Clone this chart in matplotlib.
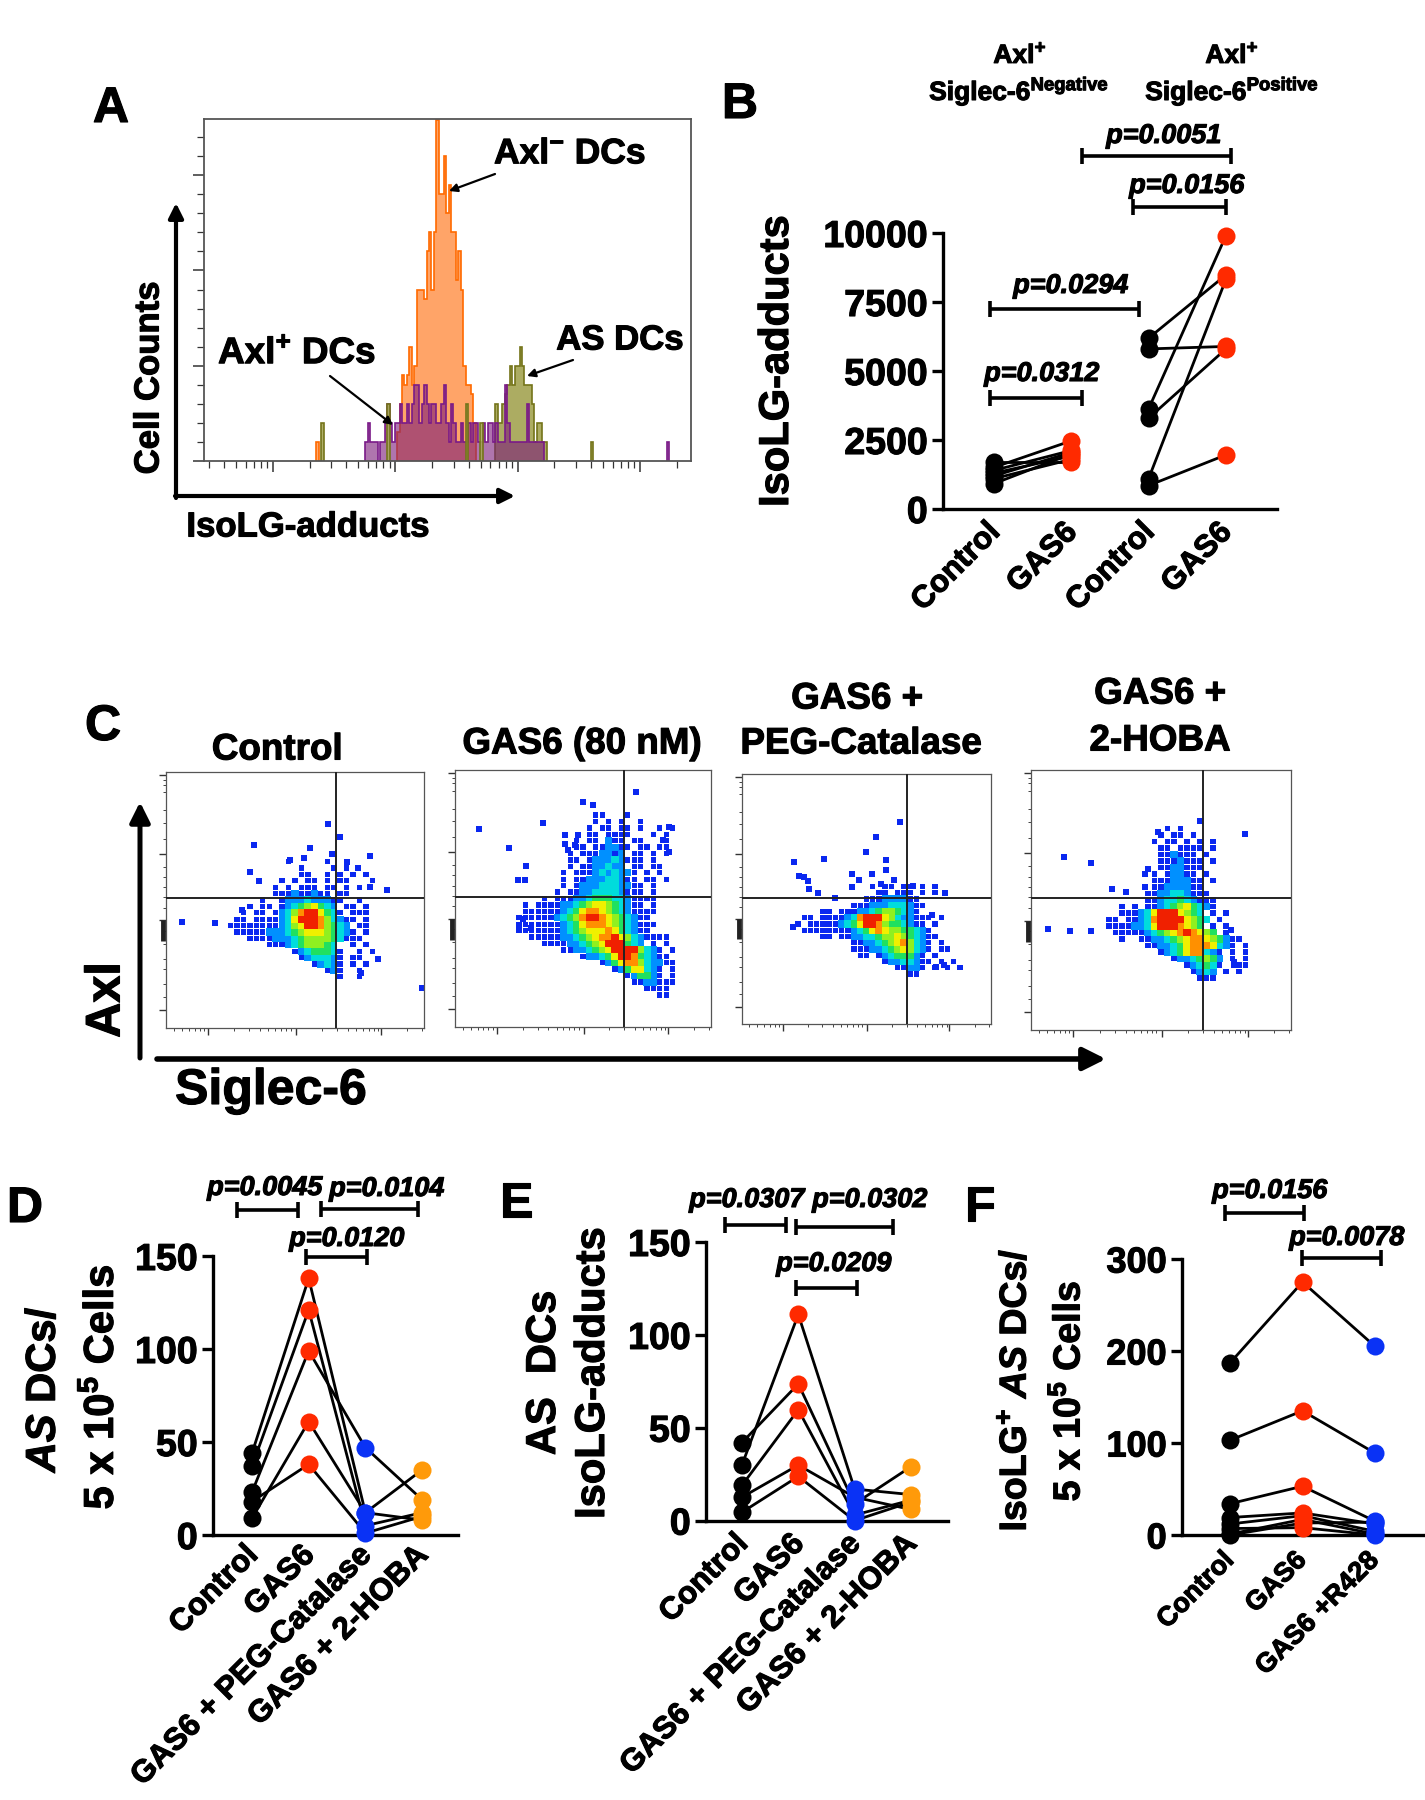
"""plot.py - six panel figure: flow histogram (A), paired dots (B, D, E, F), density dot plots (C)"""
import numpy as np
import matplotlib
matplotlib.use('Agg')
import matplotlib.pyplot as plt
import matplotlib.patheffects as pe
from matplotlib.colors import ListedColormap
from matplotlib.text import Text
from matplotlib.transforms import ScaledTranslation

plt.rcParams['font.family'] = ['Liberation Sans', 'DejaVu Sans']
plt.rcParams['font.weight'] = 'bold'
plt.rcParams['mathtext.fontset'] = 'custom'
plt.rcParams['mathtext.rm'] = 'Liberation Sans:bold'
plt.rcParams['mathtext.bf'] = 'Liberation Sans:bold'
plt.rcParams['mathtext.it'] = 'Liberation Sans:italic:bold'

W, H = 1425, 1800
BLACK, RED, BLUE, ORANGE = '#000000', '#ff2a00', '#0a32f5', '#ff9a0a'

# ── panel A: histogram counts per bin ────────────────────────────────────────
orange_start = 79
orange_counts = [1.5, 3, 4.5, 4, 4.5, 6, 4, 5, 9, 9, 9, 8.5, 11, 12, 9, 12, 17.9, 14, 14, 16,
                 13, 14.5, 12, 12, 9.5, 11, 9, 5, 4, 4, 3.5, 2]
olive_start = 119
olive_counts = [3, 2, 2, 3, 3.5, 4, 5, 4, 5, 5, 6, 5, 4, 4, 4, 3, 1, 2, 2, 1, 1]
purple_start = 66
purple_counts = [1, 2, 1, 1, 1, 0, 1, 1, 2, 3, 2, 1, 2, 2, 3, 2, 2, 3, 2, 3, 4, 4, 2, 3, 4, 3, 2, 3, 3, 2,
                 2, 3, 4, 2, 1, 3, 2, 1, 1, 2, 1, 1, 2, 1, 2, 2, 1, 1, 2, 1, 2, 2, 1, 2, 1, 1, 1, 4, 2, 1,
                 1, 1, 1, 1, 1, 1, 3, 1, 1, 1, 1, 1, 1]
spike_orange = [(46, 1)]
spike_olive = [(48, 2), (75, 3), (107, 3), (113, 2), (158, 1)]
spike_purple = [(189, 1)]

# ── panel B ──────────────────────────────────────────────────────────────────
b_neg_control = [1710, 1510, 1400, 1300, 1200, 1100, 920]
b_neg_gas6 = [1710, 2470, 2120, 1920, 2050, 1800, 2000]
b_pos_control = [6190, 5800, 3630, 3290, 1100, 850]
b_pos_gas6 = [8480, 5890, 9900, 5800, 8320, 1960]
b_labels = ['Control', 'GAS6', 'Control', 'GAS6']
b_ticks = [0, 2500, 5000, 7500, 10000]

# ── panel D ──────────────────────────────────────────────────────────────────
d_control = [44, 37, 23, 9, 18]
d_gas6 = [138, 121, 99, 61, 38]
d_peg = [12, 5, 47, 12, 1]
d_hoba = [35, 12, 19, 8, 10]
de_labels = ['Control', 'GAS6', 'GAS6 + PEG-Catalase', 'GAS6 + 2-HOBA']
de_ticks = [0, 50, 100, 150]

# ── panel E ──────────────────────────────────────────────────────────────────
e_control = [30, 42, 19, 12.6, 4.5]
e_gas6 = [111, 73.6, 59.7, 29.9, 23.8]
e_peg = [17, 9, 3, 12.6, 0]
e_hoba = [14, 29, 11, 6, 10]

# ── panel F ──────────────────────────────────────────────────────────────────
f_control = [187, 103, 34, 19, 12, 7, 1, 0]
f_gas6 = [275, 135, 53, 24, 21, 8, 17, 13]
f_r428 = [205, 89, 15, 12, 4, 0, 1, 14]
f_labels = ['Control', 'GAS6', 'GAS6 +R428']
f_ticks = [0, 100, 200, 300]

# ── panel C: density level per 2.5 x 2.5 cell (1 blue ... 8 red), top row first ──
ctrl_x0, ctrl_y0 = 22.5, 65
ctrl_rows = [
    "          1     1  1    ",
    "            1    1 1    ",
    "            11  1 1 1 1 ",
    "         1 1 11 1 11   1",
    "        1 1 111 11 1 1  ",
    "        111211211 11    ",
    "      1  1222322211  1  ",
    "    1 11 123456432 11 1 ",
    "   1 11 12357886431 111 ",
    "  11 1111236888753211 1 ",
    " 1111111123568875432 11 ",
    "  1111122234566654321 1 ",
    "    111122234555543111  ",
    "       11123455543  1 1 ",
    "           12344431  1 1",
    "            1233321 11  ",
    "              12321 1 1 ",
    "                121  1  ",
    "                  1  1  ",
]
ctrl_out = [(62.9, 79.5), (67.3, 74.7), (34.3, 71.6), (55.7, 70.4), (64.5, 67.8), (79.2, 67.1), (48.2, 65.8),
            (53.6, 66.5), (32.7, 61), (35.9, 57.5), (85.8, 53.9), (78.9, 55.2), (6.2, 41.6), (19.1, 41.2),
            (99.2, 15.6), (74.3, 62.6), (70.3, 64.9), (29.4, 46.1), (75.7, 21.4), (82.2, 26.9)]

gas_x0, gas_y0 = 25, 82.5
gas_rows = [
    "            11   1       ",
    "            1 1 1  1     ",
    "           1 11 11 1  1 1",
    "           11 1111   1 1 ",
    "         1 11 211 11   1 ",
    "         11 112211 11 11 ",
    "        1 1112212 11 1 1 ",
    "        11 122232111 1   ",
    "        1 1122322 11 11  ",
    "       1 1112323221 1 1  ",
    "       1 1122233211 11 1 ",
    "       1 12223332211 1   ",
    "      1 112233332111 1   ",
    "    1 1112234443321111   ",
    " 1 11112234566543211 1   ",
    " 111111234677654321111   ",
    "111111234578876543211    ",
    "1111111234677765432111   ",
    "111111123456667643211    ",
    "  1111122345677865321111 ",
    "    1111223456888432 1 1 ",
    "       1122345688885321 1",
    "          12234688743211 ",
    "             124677532211",
    "               12466321 1",
    "                 124421 1",
    "                  1122111",
    "                    1111 ",
    "                      11 ",
]
gas_out = [(9.5, 76.9), (21, 69.5), (27.9, 62.7), (24.6, 57.1), (27.5, 57.1), (34.4, 79.2), (50, 87.4), (53.8, 86.2),
           (70.8, 91.3), (43, 74.7), (48, 74.7), (43, 71.4), (46.7, 71), (44.3, 69), (83.6, 77.9), (83.6, 68.2),
           (81.1, 72.7), (25, 39.4), (29.5, 38.6), (26.6, 42)]

peg_x0, peg_y0 = 20, 55
peg_rows = [
    "             1 11 11 1 1",
    "              11 111 1 1",
    "            111222211",
    "          111222333211",
    "     11 1112234554321",
    "  11 111123788865322111 1",
    " 1 1111123468875443211 1",
    "  111111112346765544321",
    "     11 1122334556543211",
    "          1122345675321 1",
    "          1112234565321 11",
    "           11 12344421 1",
    "               12233211 1 1",
    "                 11221 1 1 1",
    "                   11",
]
peg_out = [(63.4, 80.7), (53.9, 74.8), (49.6, 68.9), (33, 66.1), (20.9, 64.7), (58, 65.7), (44.2, 60), (52.4, 60),
           (58, 61.7), (22.7, 59.3), (24.7, 59), (26.7, 57.3), (26.9, 54), (30.6, 52.4), (61, 57.7), (47, 57.5),
           (55.8, 56.1), (44.2, 54.8), (81.4, 52.4), (68.8, 55.3), (20.4, 39), (37.3, 50.4), (76.5, 43.7),
           (81.1, 23.7), (78, 23)]

hoba_x0, hoba_y0 = 30, 77.5
hoba_rows = [
    "         1 1",
    "        1 11 1",
    "       1 11 1 1 1",
    "        11 1111 1",
    "        112111 1",
    "        1112111 1",
    "        1122111",
    "       1 12211 1",
    "       11122211 1",
    "       11222211",
    "      1122332111",
    "      11233432111",
    "  1 1 11234564321",
    "  1112368886543 1 1",
    "11 1123788886543 1",
    "111122368887654 1 1",
    " 1111123456787654 1",
    "  1  1122345677654211",
    "      11223467776321 1",
    "        1234677321 1 1",
    "          12234542 1 1",
    "            123431  11",
    "             1232 1 1",
    "              111",
]
hoba_out = [(12.6, 66.7), (23.1, 64.3), (31, 54.3), (36.5, 53), (44, 55), (6.5, 38.7), (15, 38), (23, 38),
            (82.4, 75.5), (77, 38.5), (78, 26), (78, 25), (49, 76), (45, 62), (44, 60), (64.9, 80.3)]

level_colors = ['#0a28f0', '#0090ff', '#00dcdc', '#20e060', '#90f020', '#f0f000', '#ff9000', '#f02000']
cell_cmap = ListedColormap(level_colors)


def add_ax(left, top, right, bottom, **kw):
    return fig.add_axes([left / W, 1 - bottom / H, (right - left) / W, (bottom - top) / H], **kw)


def label(x, y, s, fs, **kw):
    # va='center' sits a little high against the reference, so push down by 4 px
    rot = kw.get('rotation', 0)
    dx, dy = (4, 0) if rot else (0, 4)
    over.text(x + dx, y + dy, s, fontsize=fs, ha='center', va='center', **kw)


def bracket(x1, x2, y, text, tx, ty, cap=8):
    over.plot([x1, x2], [y, y], color='k', lw=2.6, solid_capstyle='butt')
    over.plot([x1, x1], [y - cap, y + cap], color='k', lw=2.6, solid_capstyle='butt')
    over.plot([x2, x2], [y - cap, y + cap], color='k', lw=2.6, solid_capstyle='butt')
    over.text(tx, ty + 1, text, fontsize=19.5, style='italic', ha='center', va='center')


def style_paired(ax, box, cat0, step, ticks, labels, tick_fs, lab_fs, shift):
    left, top, right, bottom = box
    ax.set_xlim((left - cat0) / step, (right - cat0) / step)
    ax.set_ylim(0, ticks[-1])
    for s in ['top', 'right']:
        ax.spines[s].set_visible(False)
    for s in ['left', 'bottom']:
        ax.spines[s].set_linewidth(2.4)
    ax.set_yticks(ticks)
    ax.tick_params(axis='y', length=8, width=2.4, labelsize=tick_fs, pad=3)
    ax.tick_params(axis='x', length=0, pad=8)
    ax.set_xticks(np.arange(len(labels)))
    ax.set_xticklabels(labels, rotation=45, ha='right', va='top', rotation_mode='anchor', fontsize=lab_fs)
    off = ScaledTranslation(shift[0] / 100, shift[1] / 100, fig.dpi_scale_trans)
    for t in ax.get_xticklabels():
        t.set_transform(t.get_transform() + off)
    ax.patch.set_alpha(0)


def draw_pairs(ax, xs, groups, colors):
    for vals in zip(*groups):
        ax.plot(xs, vals, color='k', lw=2.0, zorder=2, clip_on=False)
    for x, vals, c in zip(xs, groups, colors):
        ax.plot([x] * len(vals), vals, 'o', color=c, ms=13, mew=0, zorder=3, clip_on=False)


def density_panel(box, rows, x0, y0, outliers, vline, hline, y_major, y_minor, x_major):
    left, top, right, bottom = box
    ax = add_ax(left, top, right, bottom)
    xs, ys, vs = [], [], []
    for r, row in enumerate(rows):
        for c, ch in enumerate(row):
            if ch != ' ':
                xs.append(x0 + 2.5 * c)
                ys.append(y0 - 2.5 * r)
                vs.append(int(ch))
    xs, ys, vs = np.array(xs), np.array(ys), np.array(vs)
    order = np.argsort(vs)
    sizes = np.where(vs[order] == 1, 15, 26)
    ax.scatter(xs[order], ys[order], c=vs[order], cmap=cell_cmap, vmin=0.5, vmax=8.5, marker='s', s=sizes, linewidths=0, zorder=2)
    ox, oy = zip(*outliers)
    ax.scatter(ox, oy, color=level_colors[0], marker='s', s=14, linewidths=0, zorder=2)
    ax.axvline(vline, color='#222222', lw=1.4, zorder=3)
    ax.axhline(hline, color='#222222', lw=1.4, zorder=3)
    ax.set_xlim(0, 100)
    ax.set_ylim(0, 100)
    for s in ax.spines.values():
        s.set_linewidth(0.9)
        s.set_color('#555555')
    ax.set_yticks(y_major)
    ax.set_yticks(y_minor, minor=True)
    ax.set_xticks(x_major)
    minors = [m + 33.5 * np.log10(k) for m in [x_major[0] - 33.5] + list(x_major) for k in range(2, 10)]
    ax.set_xticks([m for m in minors if 0 < m < 100], minor=True)
    ax.tick_params(which='major', length=5, width=1.0, color='#333333', labelleft=False, labelbottom=False)
    ax.tick_params(which='minor', length=2.5, width=0.7, color='#444444')
    # piled up events on the left axis
    ax.plot([-1.3, -1.3], [34, 42], color='#222222', lw=3.5, solid_capstyle='butt', clip_on=False)
    return ax


fig = plt.figure(figsize=(W / 100, H / 100), dpi=100, facecolor='white')

# ── A ────────────────────────────────────────────────────────────────────────
ax = add_ax(203.7, 119, 691, 461)
def hist(start, counts, fc, ec, alpha):
    counts = np.array(counts, dtype=float)
    edges = start + np.arange(len(counts) + 1)
    ax.stairs(counts, edges, fill=True, color=fc, alpha=alpha, lw=0)
    ax.stairs(counts, edges, color=ec, lw=1.2)

hist(orange_start, orange_counts, '#ff9f60', '#ff6a00', 0.95)
hist(olive_start, olive_counts, '#a8a85a', '#74741a', 0.95)
hist(purple_start, purple_counts, '#7a1a78', '#7a1a88', 0.6)
for b, c in spike_orange:
    hist(b, [c], '#ff9f60', '#ff6a00', 0.9)
for b, c in spike_olive:
    hist(b, [c], '#a8a85a', '#74741a', 0.9)
for b, c in spike_purple:
    hist(b, [c], '#7a1a78', '#7a1a88', 0.6)
ax.set_xlim(0, 199)
ax.set_ylim(0, 17.95)
for s in ax.spines.values():
    s.set_linewidth(1.3)
    s.set_color('#555555')
ax.set_yticks([0, 5, 10, 15])
ax.set_yticks([v for v in range(18) if v % 5], minor=True)
majors = [28.2, 78.2, 128.2, 178.2]
ax.set_xticks(majors)
minor_bins = [m + 50 * np.log10(k) for m in [-21.8] + majors for k in range(2, 10)]
ax.set_xticks([m for m in minor_bins if 0 < m < 199], minor=True)
ax.tick_params(which='major', length=8, width=1.1, color='#333333', labelleft=False, labelbottom=False)
ax.tick_params(which='minor', length=5, width=0.9, color='#333333')

# ── B ────────────────────────────────────────────────────────────────────────
box = (943, 233, 1277, 509)
ax = add_ax(*box)
draw_pairs(ax, [0, 1], [b_neg_control, b_neg_gas6], [BLACK, RED])
draw_pairs(ax, [2, 3], [b_pos_control, b_pos_gas6], [BLACK, RED])
style_paired(ax, box, 994, 77.3, b_ticks, b_labels, 27, 22.5, (-9, 3))

# ── C ────────────────────────────────────────────────────────────────────────
ym = [99, 68, 42, 7]
ymin = [97, 95, 92, 85, 80, 74, 63, 59, 55, 51, 47, 38, 33, 27, 23, 17, 12]
xm = [16.3, 50.2, 83.3]
density_panel((166, 772, 424, 1028), ctrl_rows, ctrl_x0, ctrl_y0, ctrl_out, 66, 50.6, ym, ymin, xm)
density_panel((455, 770, 711, 1027), gas_rows, gas_x0, gas_y0, gas_out, 66, 50.6, ym, ymin, xm)
density_panel((742, 774, 991, 1024), peg_rows, peg_x0, peg_y0, peg_out, 66.2, 50.6, ym, ymin, xm)
density_panel((1031, 770, 1291, 1030), hoba_rows, hoba_x0, hoba_y0, hoba_out, 66.2, 50.6, ym, ymin, xm)

# ── D ────────────────────────────────────────────────────────────────────────
box = (213, 1256, 458, 1535)
ax = add_ax(*box)
draw_pairs(ax, [0, 1, 2, 3], [d_control, d_gas6, d_peg, d_hoba], [BLACK, RED, BLUE, ORANGE])
style_paired(ax, box, 252, 56.7, de_ticks, de_labels, 27, 22.5, (-9, 6))

# ── E ────────────────────────────────────────────────────────────────────────
box = (706, 1242, 948, 1520.6)
ax = add_ax(*box)
draw_pairs(ax, [0, 1, 2, 3], [e_control, e_gas6, e_peg, e_hoba], [BLACK, RED, BLUE, ORANGE])
style_paired(ax, box, 742, 56.3, de_ticks, de_labels, 27, 22.5, (-9, 3))

# ── F ────────────────────────────────────────────────────────────────────────
box = (1182, 1259, 1423, 1535)
ax = add_ax(*box)
draw_pairs(ax, [0, 1, 2], [f_control, f_gas6, f_r428], [BLACK, RED, BLUE])
style_paired(ax, box, 1230, 72.5, f_ticks, f_labels, 26, 19.5, (-9, -1))

# ── overlay for all annotation, in figure pixels ─────────────────────────────
over = fig.add_axes([0, 0, 1, 1], facecolor='none')
over.set_xlim(0, W)
over.set_ylim(H, 0)
over.axis('off')

for letter, x, y in [('A', 111, 105), ('B', 740, 101), ('C', 103, 723), ('D', 25, 1205), ('E', 516, 1200), ('F', 980, 1204)]:
    label(x, y, letter, 36)


def arrow(x1, y1, x2, y2, lw, scale):
    over.annotate('', xy=(x2, y2), xytext=(x1, y1),
                  arrowprops=dict(arrowstyle='-|>', lw=lw, color='k', shrinkA=0, shrinkB=0, mutation_scale=scale))


# A
arrow(176, 498, 176, 203, 3, 22)
arrow(175, 496, 515, 496, 3, 22)
arrow(495, 174, 449, 191, 1.6, 12)
arrow(573, 360, 527, 376, 1.6, 12)
arrow(330, 376, 393, 425, 1.6, 12)
label(570, 150, r'Axl$^{-}$ DCs', 25.5)
label(620, 336, 'AS DCs', 25)
label(297, 350, r'Axl$^{+}$ DCs', 26.5)
label(145, 378, 'Cell Counts', 25, rotation=90)
label(308, 523, 'IsoLG-adducts', 25)

# B
label(1020, 52, r'Axl$^{+}$', 19)
label(1019, 87, r'Siglec-6$^{\mathbf{Negative}}$', 19)
label(1232, 52, r'Axl$^{+}$', 19)
label(1232, 87, r'Siglec-6$^{\mathbf{Positive}}$', 19)
label(773, 361, 'IsoLG-adducts', 30, rotation=90)
bracket(1082, 1231, 156, 'p=0.0051', 1164, 135)
bracket(1133, 1226, 207, 'p=0.0156', 1187, 185)
bracket(990, 1139, 309, 'p=0.0294', 1071, 285)
bracket(990, 1082, 398, 'p=0.0312', 1042, 373)

# C
label(277, 746, 'Control', 26.5)
label(582, 740, 'GAS6 (80 nM)', 26.5)
label(857, 695, 'GAS6 +', 26.5)
label(861, 740, 'PEG-Catalase', 26.5)
label(1160, 690, 'GAS6 +', 26.5)
label(1160, 737, '2-HOBA', 26.5)
arrow(140, 1058, 140, 802, 3.6, 30)
arrow(157, 1059, 1106, 1059, 4, 34)
label(103, 1000, 'Axl', 35, rotation=90)
label(271, 1087, 'Siglec-6', 36)

# D
label(40, 1389, r'$\mathit{AS}$ DCs/', 30, rotation=90)
label(98, 1387, r'5 x 10$^{5}$ Cells', 30, rotation=90)
bracket(237, 298, 1210, 'p=0.0045', 265, 1187)
bracket(321, 418, 1209, 'p=0.0104', 387, 1188)
bracket(306, 367, 1257, 'p=0.0120', 347, 1238)

# E
label(540, 1373, 'AS  DCs', 30, rotation=90)
label(589, 1373, 'IsoLG-adducts', 30, rotation=90)
bracket(725, 786, 1225, 'p=0.0307', 747, 1199)
bracket(796, 893, 1227, 'p=0.0302', 870, 1199)
bracket(796, 857, 1288, 'p=0.0209', 834, 1263)

# F
label(1012, 1390, r'IsoLG$^{+}$ $\mathit{AS}$ DCs/', 27, rotation=90)
label(1065, 1391, r'5 x 10$^{5}$ Cells', 27, rotation=90)
bracket(1225, 1304, 1213, 'p=0.0156', 1270, 1190)
bracket(1302, 1381, 1258, 'p=0.0078', 1347, 1237)

# the reference type is heavier than plain bold
for t in fig.findobj(Text):
    t.set_path_effects([pe.withStroke(linewidth=0.8, foreground='k')])

fig.savefig('out.png', dpi=100)
